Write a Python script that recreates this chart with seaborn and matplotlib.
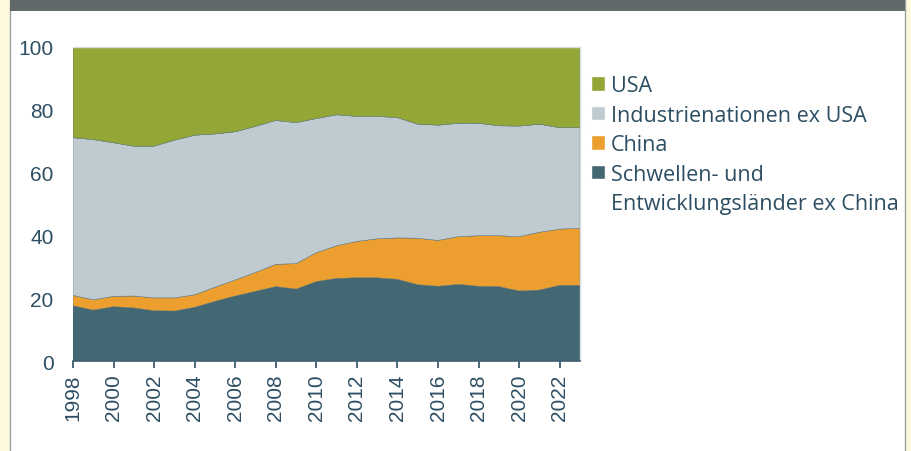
import numpy as np
import seaborn as sns
import matplotlib.pyplot as plt
from matplotlib.patches import Rectangle, Patch

# shares in %
years = list(range(1998, 2024))
em_ex_china = [17.6, 16.2, 17.3, 16.9, 16.0, 15.9, 17.1, 19.0, 20.7, 22.2, 23.7, 22.9, 25.3,
               26.3, 26.5, 26.5, 26.0, 24.3, 23.8, 24.4, 23.8, 23.7, 22.3, 22.6, 24.1, 24.1]
china = [3.3, 3.3, 3.3, 3.8, 4.1, 4.2, 4.0, 4.5, 5.1, 6.0, 7.1, 8.1, 9.2,
         10.4, 11.6, 12.4, 13.2, 14.8, 14.6, 15.2, 16.1, 16.2, 17.3, 18.4, 17.9, 18.2]
industrial_ex_usa = [50.2, 51.0, 48.9, 47.7, 48.3, 50.2, 50.8, 48.8, 47.2, 46.5, 45.8, 44.9, 42.7,
                     41.7, 39.8, 39.0, 38.3, 36.3, 36.7, 36.1, 35.8, 35.0, 35.2, 34.4, 32.3, 32.0]
usa = [28.9, 29.5, 30.5, 31.6, 31.6, 29.7, 28.1, 27.7, 27.0, 25.3, 23.4, 24.1, 22.8,
       21.6, 22.1, 22.1, 22.5, 24.6, 24.9, 24.3, 24.3, 25.1, 25.2, 24.6, 25.7, 25.7]

colors = ["#446873", "#ec9f2e", "#bfcbd0", "#94a736"]
text_col = "#2d4e62"

sns.set_theme(style="white")
plt.rcParams['font.family'] = ['Liberation Sans', 'DejaVu Sans']

W, H = 911, 452
fig = plt.figure(figsize=(W / 100, H / 100), dpi=100, facecolor="#fef9dc")

# white panel + dark banner (behind the axes)
fig.patches.append(Rectangle((10 / W, -0.1), 895 / W, 1.2, transform=fig.transFigure,
                             facecolor="white", edgecolor="#9a9fa2", lw=1, zorder=-2))
fig.patches.append(Rectangle((10 / W, 1 - 12 / H), 895 / W, 0.1, transform=fig.transFigure,
                             facecolor="#62696b", edgecolor="none", zorder=-1))

ax = fig.add_axes([73 / W, 1 - 362 / H, (580 - 73) / W, (362 - 48) / H])
ax.set_facecolor("none")
ax.stackplot(years, em_ex_china, china, industrial_ex_usa, usa, colors=colors,
             edgecolors=colors, linewidth=0.3)

ax.set_xlim(1998, 2023)
ax.set_ylim(0, 100)
ax.set_xticks(range(1998, 2023, 2))
ax.set_yticks(range(0, 101, 20))
ax.tick_params(axis="x", rotation=90, labelsize=15, colors=text_col, length=5, width=1.2,
               direction="out", pad=4, bottom=True)
ax.tick_params(axis="y", labelsize=15, colors=text_col, length=0, pad=14)
ax.grid(False)
ax.spines["left"].set_visible(False)
for s in ["top", "right"]:
    ax.spines[s].set_color("#d5dde0")
    ax.spines[s].set_linewidth(1)
ax.spines["bottom"].set_color("#3e6070")
ax.spines["bottom"].set_linewidth(1.2)

# legend: top to bottom, last label split over two rows
handles = [Patch(facecolor=colors[3]), Patch(facecolor=colors[2]), Patch(facecolor=colors[1]),
           Patch(facecolor=colors[0]), Patch(facecolor="none", edgecolor="none")]
leg_labels = ["USA", "Industrienationen ex USA", "China", "Schwellen- und",
              "Entwicklungsländer ex China"]
leg = fig.legend(handles, leg_labels, loc="upper left", bbox_to_anchor=(591 / W, 1 - 76 / H),
                 frameon=False, handlelength=0.65, handleheight=0.65, handletextpad=0.28,
                 labelspacing=0.4, borderpad=0, borderaxespad=0,
                 prop={"family": "Open Sans", "size": 15.5})
for t in leg.get_texts():
    t.set_color(text_col)

plt.savefig("out.png", dpi=100, facecolor=fig.get_facecolor())
